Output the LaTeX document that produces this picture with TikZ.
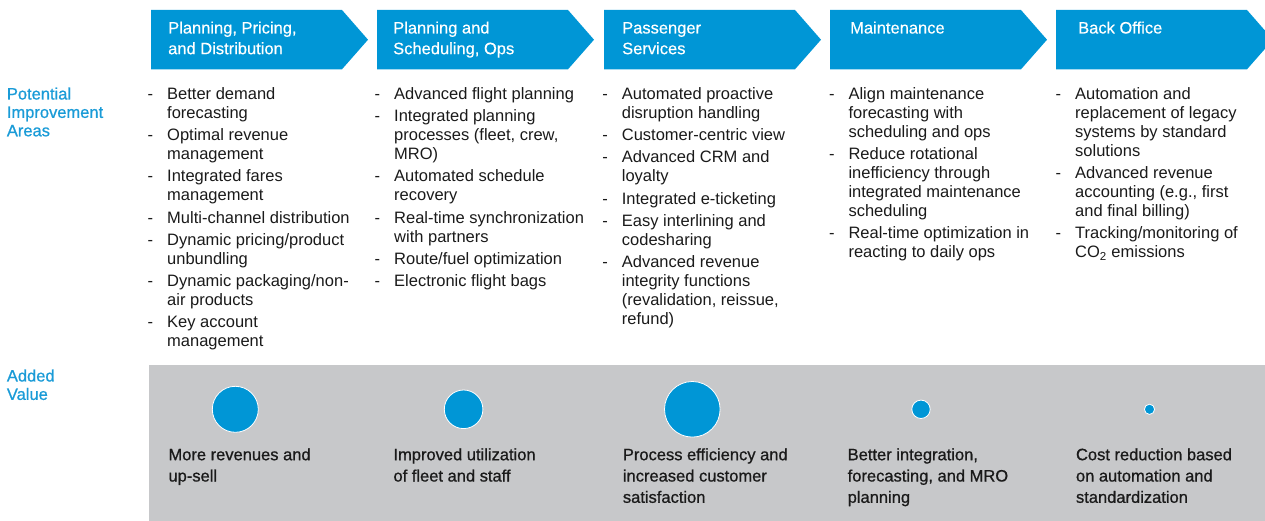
\documentclass[tikz,border=0pt]{standalone}
\usepackage{fontspec}
\setmainfont{Liberation Sans}
\newfontfamily\medfont[FakeBold=0.8]{Liberation Sans}
\newfontfamily\semfont[FakeBold=0.4]{Liberation Sans}
\definecolor{hdrblue}{HTML}{0096D6}
\definecolor{lblblue}{HTML}{1A9BD7}
\definecolor{panelgray}{HTML}{C7C8CA}
\definecolor{txt}{HTML}{1A1A1A}
\newcommand\itemtab[1]{\begin{tabular}{@{}p{19.5pt}@{}l@{}}#1\end{tabular}}
\newcommand\plaintab[1]{\begin{tabular}{@{}l@{}}#1\end{tabular}}
\tikzset{
  chev/.style={fill=hdrblue, draw=none},
  panel/.style={fill=panelgray, draw=none},
  hdrtext/.style={anchor=north west, inner sep=0pt, text=white, font=\semfont\fontsize{16.5}{20.7}\selectfont},
  bullets/.style={anchor=north west, inner sep=0pt, text=txt, font=\fontsize{16.5}{19}\selectfont},
  rowlabel/.style={anchor=north west, inner sep=0pt, text=lblblue, font=\medfont\fontsize{16.5}{18.4}\selectfont},
  valtext/.style={anchor=north west, inner sep=0pt, text=txt, font=\medfont\fontsize{16.5}{21.3}\selectfont},
  dot/.style={circle, fill=hdrblue, draw=white, line width=0.8pt, inner sep=0pt},
}
\begin{document}
\begin{tikzpicture}[x=1pt,y=-1pt]
\useasboundingbox (0,0) rectangle (1265,521);
\clip (0,0) rectangle (1265,521);

% header chevrons
\foreach \L in {151,377,604,830,1056}{
  \fill[chev] (\L,10) -- ++(191,0) -- ++(26,29.7) -- ++(-26,29.6) -- ++(-191,0) -- cycle;
}
\node[hdrtext] (h1) at (168,18.8) {\plaintab{Planning, Pricing,\\and Distribution}};
\node[hdrtext] (h2) at (393,18.8) {\plaintab{Planning and\\Scheduling, Ops}};
\node[hdrtext] (h3) at (622,18.8) {\plaintab{Passenger\\Services}};
\node[hdrtext] (h4) at (850,18.8) {\plaintab{Maintenance}};
\node[hdrtext] (h5) at (1078,18.8) {\plaintab{Back Office}};

% row labels
\node[rowlabel] (lab1) at (6.7,86.4) {\plaintab{Potential\\Improvement\\Areas}};
\node[rowlabel] (lab2) at (6.7,368.4) {\plaintab{Added\\Value}};

% bullet columns
\node[bullets] (b1) at (147.5,86) {\itemtab{
- & Better demand\\ & forecasting\\[3.2pt]
- & Optimal revenue\\ & management\\[3.2pt]
- & Integrated fares\\ & management\\[3.2pt]
- & Multi-channel distribution\\[3.2pt]
- & Dynamic pricing/product\\ & unbundling\\[3.2pt]
- & Dynamic packaging/non-\\ & air products\\[3.2pt]
- & Key account\\ & management}};
\node[bullets] (b2) at (374.5,86) {\itemtab{
- & Advanced flight planning\\[3.2pt]
- & Integrated planning\\ & processes (fleet, crew,\\ & MRO)\\[3.2pt]
- & Automated schedule\\ & recovery\\[3.2pt]
- & Real-time synchronization\\ & with partners\\[3.2pt]
- & Route/fuel optimization\\[3.2pt]
- & Electronic flight bags}};
\node[bullets] (b3) at (602.2,86) {\itemtab{
- & Automated proactive\\ & disruption handling\\[3.2pt]
- & Customer-centric view\\[3.2pt]
- & Advanced CRM and\\ & loyalty\\[3.2pt]
- & Integrated e-ticketing\\[3.2pt]
- & Easy interlining and\\ & codesharing\\[3.2pt]
- & Advanced revenue\\ & integrity functions\\ & (revalidation, reissue,\\ & refund)}};
\node[bullets] (b4) at (828.8,86) {\itemtab{
- & Align maintenance\\ & forecasting with\\ & scheduling and ops\\[3.2pt]
- & Reduce rotational\\ & inefficiency through\\ & integrated maintenance\\ & scheduling\\[3.2pt]
- & Real-time optimization in\\ & reacting to daily ops}};
\node[bullets] (b5) at (1055.5,86) {\itemtab{
- & Automation and\\ & replacement of legacy\\ & systems by standard\\ & solutions\\[3.2pt]
- & Advanced revenue\\ & accounting (e.g., first\\ & and final billing)\\[3.2pt]
- & Tracking/monitoring of\\ & CO\textsubscript{2} emissions}};

% added value panel
\fill[panel] (149,365) rectangle (1265,521);
\node[dot, minimum size=46pt]   (c1) at (235.3,409.3) {};
\node[dot, minimum size=38.6pt] (c2) at (463.6,409.3) {};
\node[dot, minimum size=55.6pt] (c3) at (692.3,409.3) {};
\node[dot, minimum size=18.4pt] (c4) at (921,409.3) {};
\node[dot, minimum size=10.2pt] (c5) at (1149.5,409.3) {};

\node[valtext] (v1) at (168.3,445.1) {\plaintab{More revenues and\\up-sell}};
\node[valtext] (v2) at (393.3,445.1) {\plaintab{Improved utilization\\of fleet and staff}};
\node[valtext] (v3) at (622.7,445.1) {\plaintab{Process efficiency and\\increased customer\\satisfaction}};
\node[valtext] (v4) at (847.5,445.1) {\plaintab{Better integration,\\forecasting, and MRO\\planning}};
\node[valtext] (v5) at (1075.8,445.1) {\plaintab{Cost reduction based\\on automation and\\standardization}};
\end{tikzpicture}
\end{document}
